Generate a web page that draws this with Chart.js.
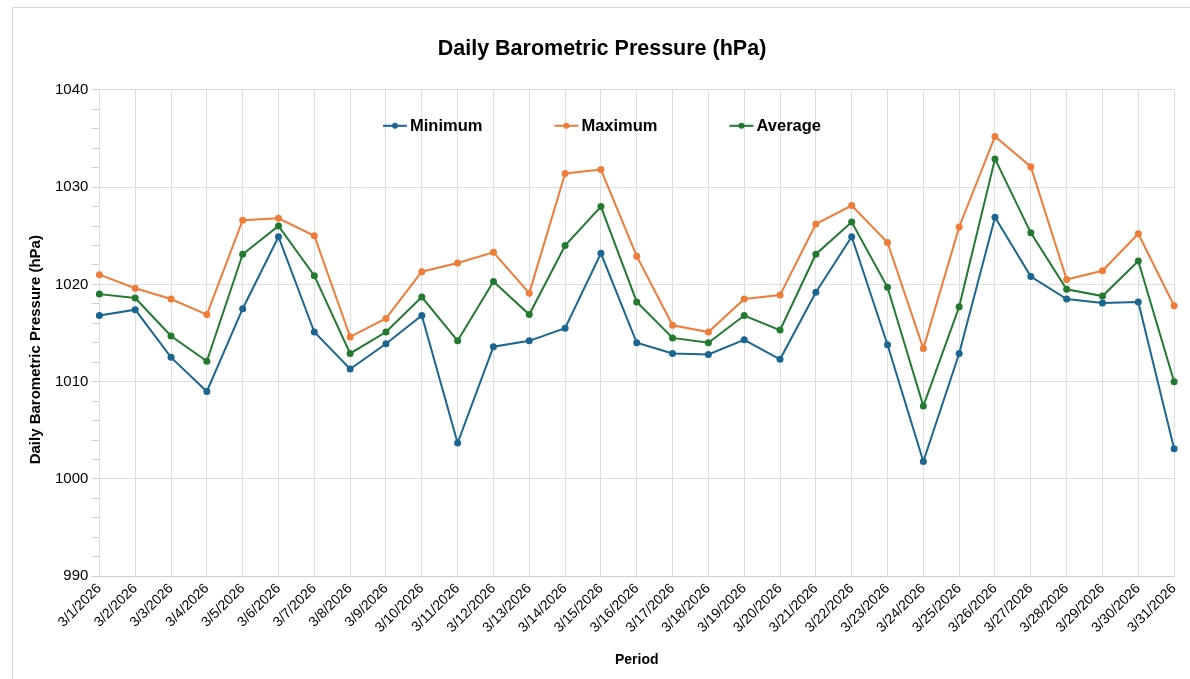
<!DOCTYPE html>
<html>
<head>
<meta charset="utf-8">
<script src="https://cdn.jsdelivr.net/npm/chart.js@4/dist/chart.umd.min.js"></script>
<style>
  html, body { margin: 0; padding: 0; background: #fff; }
  .frame { position: absolute; left: 12px; top: 7px; width: 1200px; height: 700px; border: 1px solid #d9d9d9; box-sizing: border-box; }
  .wrap { position: absolute; left: 0; top: 0; width: 1190px; height: 679px; }
</style>
</head>
<body>
<div class="frame"></div>
<div class="wrap"><canvas id="pressureChart"></canvas></div>
<script>
  const days = [
    '3/1/2026', '3/2/2026', '3/3/2026', '3/4/2026', '3/5/2026', '3/6/2026', '3/7/2026', '3/8/2026',
    '3/9/2026', '3/10/2026', '3/11/2026', '3/12/2026', '3/13/2026', '3/14/2026', '3/15/2026', '3/16/2026',
    '3/17/2026', '3/18/2026', '3/19/2026', '3/20/2026', '3/21/2026', '3/22/2026', '3/23/2026', '3/24/2026',
    '3/25/2026', '3/26/2026', '3/27/2026', '3/28/2026', '3/29/2026', '3/30/2026', '3/31/2026'
  ];

  const minimum = [
    1016.8, 1017.4, 1012.5, 1009.0, 1017.5, 1024.9, 1015.1, 1011.3, 1013.9, 1016.8, 1003.7,
    1013.6, 1014.2, 1015.5, 1023.2, 1014.0, 1012.9, 1012.8, 1014.3, 1012.3, 1019.2, 1024.9,
    1013.8, 1001.8, 1012.9, 1026.9, 1020.8, 1018.5, 1018.1, 1018.2, 1003.1
  ];

  const maximum = [
    1021.0, 1019.6, 1018.5, 1016.9, 1026.6, 1026.8, 1025.0, 1014.6, 1016.5, 1021.3, 1022.2,
    1023.3, 1019.1, 1031.4, 1031.8, 1022.9, 1015.8, 1015.1, 1018.5, 1018.9, 1026.2, 1028.1,
    1024.3, 1013.4, 1025.9, 1035.2, 1032.1, 1020.5, 1021.4, 1025.2, 1017.8
  ];

  const average = [
    1019.0, 1018.6, 1014.7, 1012.1, 1023.1, 1026.0, 1020.9, 1012.9, 1015.1, 1018.7, 1014.2,
    1020.3, 1016.9, 1024.0, 1028.0, 1018.2, 1014.5, 1014.0, 1016.8, 1015.3, 1023.1, 1026.4,
    1019.7, 1007.5, 1017.7, 1032.9, 1025.3, 1019.5, 1018.8, 1022.4, 1010.0
  ];

  const yMin = 990;
  const yMax = 1040;
  const yMajorStep = 10;
  const yMinorStep = 2;

  const colors = {
    minimum: '#1b6690',
    maximum: '#ee7d3a',
    average: '#217a2f',
    grid: '#dedede',
    tick: '#d0d0d0',
    text: '#000'
  };

  const fontFamily = '"Liberation Sans", Arial, sans-serif';
  Chart.defaults.font.family = fontFamily;
  Chart.defaults.color = colors.text;

  // legend sits inside the plot, near its top, as one centred row
  const inlineLegend = {
    id: 'inlineLegend',
    afterDatasetsDraw: function (chart) {
      const ctx = chart.ctx;
      const area = chart.chartArea;
      const lineLen = 24;
      const gapText = 3;
      const gapItem = 72;
      const y = area.top + 36;
      ctx.save();
      ctx.font = 'bold 16.5px ' + fontFamily;
      ctx.textBaseline = 'middle';
      const items = chart.data.datasets.map(function (ds) {
        return { ds: ds, w: lineLen + gapText + ctx.measureText(ds.label).width };
      });
      const total = items.reduce(function (s, it) { return s + it.w; }, 0) + gapItem * (items.length - 1);
      const title = chart.titleBlock;
      let x = (title.left + title.right) / 2 - total / 2;
      items.forEach(function (it) {
        const c = it.ds.borderColor;
        ctx.strokeStyle = c;
        ctx.lineWidth = 2;
        ctx.beginPath();
        ctx.moveTo(x, y);
        ctx.lineTo(x + lineLen, y);
        ctx.stroke();
        ctx.fillStyle = c;
        ctx.beginPath();
        ctx.arc(x + lineLen / 2, y, 3, 0, Math.PI * 2);
        ctx.fill();
        ctx.fillStyle = colors.text;
        ctx.fillText(it.ds.label, x + lineLen + gapText, y + 1);
        x += it.w + gapItem;
      });
      ctx.restore();
    }
  };

  function series(label, data, color) {
    return {
      label: label,
      data: data,
      borderColor: color,
      backgroundColor: color,
      borderWidth: 2,
      pointRadius: 3.5,
      pointHoverRadius: 4,
      pointBackgroundColor: color,
      pointBorderWidth: 0,
      tension: 0
    };
  }

  new Chart(document.getElementById('pressureChart'), {
    type: 'line',
    data: {
      labels: days,
      datasets: [
        series('Minimum', minimum, colors.minimum),
        series('Maximum', maximum, colors.maximum),
        series('Average', average, colors.average)
      ]
    },
    plugins: [inlineLegend],
    options: {
      responsive: true,
      maintainAspectRatio: false,
      animation: false,
      layout: { padding: { left: 23, right: 9, top: 20, bottom: 6 } },
      plugins: {
        title: {
          display: true,
          text: 'Daily Barometric Pressure (hPa)',
          font: { size: 21.5, weight: 'bold' },
          color: colors.text,
          padding: { top: 16, bottom: 28 }
        },
        legend: { display: false },
        tooltip: { enabled: false }
      },
      scales: {
        x: {
          offset: false,
          grid: { color: colors.grid, drawTicks: false },
          border: { color: colors.tick },
          ticks: {
            autoSkip: false,
            maxRotation: 45,
            minRotation: 45,
            padding: 4,
            font: { size: 14 },
            color: colors.text
          },
          title: {
            display: true,
            text: 'Period',
            font: { size: 14, weight: 'bold' },
            padding: { top: 12 }
          }
        },
        y: {
          min: yMin,
          max: yMax,
          grid: {
            color: function (ctx) {
              return ctx.tick && ctx.tick.value % yMajorStep === 0 ? colors.grid : 'rgba(0,0,0,0)';
            },
            tickColor: colors.tick,
            tickLength: 8
          },
          border: { display: false },
          ticks: {
            stepSize: yMinorStep,
            autoSkip: false,
            padding: 3,
            font: { size: 15 },
            color: colors.text,
            callback: function (value) {
              return value % yMajorStep === 0 ? value : '';
            }
          },
          title: {
            display: true,
            // trailing spaces nudge the centred text toward the bottom, as in the source
            text: 'Daily Barometric Pressure (hPa)        ',
            font: { size: 15, weight: 'bold' },
            padding: { bottom: 7 }
          }
        }
      }
    }
  });
</script>
</body>
</html>
